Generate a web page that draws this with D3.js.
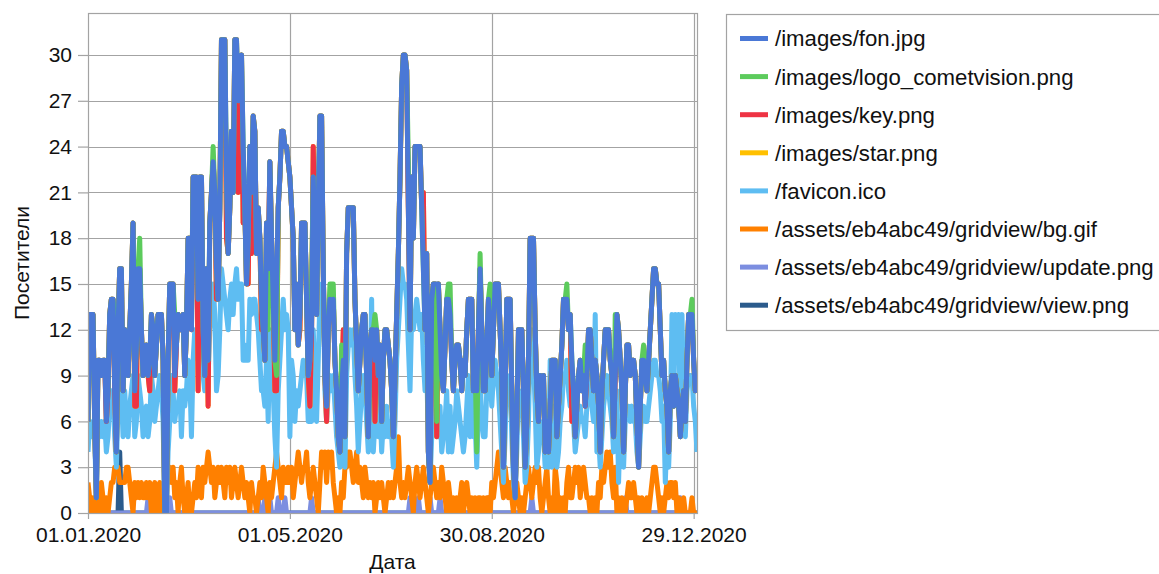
<!DOCTYPE html>
<html><head><meta charset="utf-8">
<script src="https://cdn.jsdelivr.net/npm/d3@7/dist/d3.min.js"></script>
<style>
body{margin:0;background:#fff;}
text{font-family:"Liberation Sans",Arial,sans-serif;fill:#111;}
</style>
</head><body>
<svg id="chart" width="1159" height="574"></svg>
<script>
// ---- data (daily values, 01.01.2020 .. 31.12.2020) ----
const seriesNames = ["/images/fon.jpg","/images/logo_cometvision.png","/images/key.png","/images/star.png","/favicon.ico","/assets/eb4abc49/gridview/bg.gif","/assets/eb4abc49/gridview/update.png","/assets/eb4abc49/gridview/view.png"];
const seriesColors = ["#4a78d6","#5ccb5c","#ee3344","#ffc000","#5ebdf2","#ff8000","#7c8ee0","#2b5b8c"];

const fon = [
6,13,13,13,6,1,10,10,9,10, 10,6,8,13,14,14,8,4,12,16,
16,8,12,10,9,12,15,19,8,11, 16,16,12,9,10,11,9,10,13,12,
9,11,13,13,13,10,0,0,10,15, 15,15,9,11,13,12,12,13,9,12,
18,18,12,22,22,22,14,22,22,12, 9,16,10,19,21,23,21,16,14,20,
31,31,31,22,17,20,25,21,31,31, 27,29,30,24,20,15,18,24,21,26,
25,17,20,18,14,12,10,19,16,23, 18,14,10,15,20,22,25,25,24,24,
23,22,20,18,12,15,11,13,19,19, 19,14,9,10,12,22,17,13,20,26,
26,16,9,7,12,14,13,14,10,8, 5,4,8,10,5,17,20,20,20,20,
14,11,8,10,12,13,13,9,5,11, 12,12,10,12,9,11,6,10,12,12,
11,10,8,5,9,13,17,22,28,30, 30,29,20,12,22,18,24,24,24,24,
20,16,12,17,4,2,14,15,15,15, 15,12,9,8,11,14,14,13,10,8,
10,11,11,10,8,10,9,12,14,14, 14,8,10,8,12,16,12,8,8,11,
14,12,9,12,15,15,15,12,9,3, 8,14,14,14,8,3,1,6,12,12,
12,8,3,6,10,18,18,18,12,8, 6,9,8,9,4,6,4,7,10,10,
10,5,7,9,11,14,14,14,12,13, 10,8,5,7,9,10,8,9,7,9,
12,12,10,8,10,9,7,4,8,10, 12,12,12,10,9,5,9,13,12,10,
8,4,8,11,11,9,10,10,9,6, 3,7,10,10,9,8,10,12,14,16,
16,15,15,12,9,10,8,7,4,8, 9,7,9,8,7,5,7,8,6,10,
13,13,13,10,8,9];

const logo = [
6,13,13,13,6,1,10,10,9,10, 10,8,8,13,14,14,13,4,12,16,
16,8,12,10,9,12,15,19,8,11, 16,18,12,9,10,11,9,10,13,12,
9,11,13,13,13,10,0,0,10,15, 15,15,13,11,13,12,12,13,9,12,
18,18,13,22,22,22,14,22,22,12, 9,16,10,19,21,24,21,16,14,20,
31,31,31,22,17,20,25,21,31,31, 27,29,30,24,20,15,18,24,21,26,
25,17,20,18,14,12,10,19,12,23, 18,14,10,9,20,22,25,25,24,24,
23,22,20,18,12,15,11,13,19,19, 19,14,9,10,15,22,17,13,20,26,
26,16,9,7,12,15,15,15,10,8, 5,4,11,10,5,17,20,20,20,20,
14,11,8,10,12,13,13,9,5,11, 12,12,13,12,9,11,6,10,12,12,
11,10,8,5,9,13,17,22,28,30, 30,29,23,12,22,18,24,24,24,24,
20,16,12,17,4,2,14,15,15,6, 15,12,9,8,11,14,15,15,10,8,
10,11,11,10,8,10,9,12,14,14, 14,8,10,4,12,17,12,8,8,11,
14,15,9,12,15,15,15,12,9,3, 8,14,14,14,8,3,1,6,12,12,
12,8,3,6,10,18,18,18,12,8, 6,9,8,9,4,6,4,7,10,10,
10,5,7,9,11,14,14,15,12,13, 10,8,5,7,9,10,8,9,11,9,
12,12,10,8,10,9,7,4,8,10, 12,12,12,10,9,5,13,13,12,10,
8,4,8,11,11,9,10,10,9,6, 3,7,10,11,9,8,10,12,14,16,
16,15,15,12,9,10,8,7,4,8, 9,7,9,8,7,5,7,8,6,10,
13,13,14,10,8,9];

const key = [
6,13,13,13,6,1,10,10,9,10, 10,6,8,13,14,14,8,4,12,16,
16,8,12,10,9,12,15,19,7,7, 16,16,12,9,10,11,9,8,13,12,
9,11,13,13,13,10,0,0,10,15, 15,15,8,11,13,12,12,13,9,12,
18,18,12,22,22,22,8,22,22,12, 9,16,7,19,21,23,21,14,14,20,
31,31,31,18,17,20,25,21,31,31, 21,29,30,19,20,15,15,24,17,26,
25,17,20,18,12,12,10,19,16,23, 18,14,8,8,20,22,25,25,24,24,
23,22,20,18,12,15,11,12,19,19, 19,14,9,7,12,24,17,13,20,26,
26,16,9,6,12,14,13,14,10,8, 5,4,8,12,5,17,20,20,20,20,
14,11,8,10,12,13,13,9,5,11, 12,12,6,12,9,11,6,10,12,12,
11,10,8,5,9,13,17,22,28,30, 30,29,20,12,22,18,24,24,24,24,
20,21,12,17,4,2,14,15,15,5, 15,12,9,8,11,14,14,13,10,8,
10,11,11,10,8,10,9,12,14,14, 14,8,10,8,12,16,12,8,8,11,
14,12,9,12,15,15,15,12,9,3, 8,14,14,14,8,3,1,6,12,12,
12,8,3,6,10,18,18,18,12,8, 6,9,8,9,4,6,4,7,10,10,
10,5,7,9,11,14,14,14,12,13, 6,8,5,7,9,10,8,9,7,9,
12,12,10,8,10,9,7,4,8,10, 12,12,12,10,9,5,9,13,12,10,
8,4,8,11,11,9,10,10,9,6, 3,7,10,10,9,8,10,12,14,16,
16,15,15,12,9,10,8,7,4,8, 9,7,9,8,7,5,7,8,6,10,
13,13,13,10,8,9];

const star = [
6,13,13,13,6,1,10,10,9,10, 10,6,8,13,14,14,8,4,12,16,
16,8,12,10,9,12,15,19,7,7, 16,16,12,9,10,11,9,8,13,12,
9,11,13,13,13,10,0,0,10,15, 15,15,8,11,13,12,12,13,9,12,
18,18,12,22,22,22,8,22,22,12, 9,16,7,19,21,23,21,14,14,20,
31,31,31,18,17,20,25,21,31,31, 21,29,30,19,20,15,15,24,17,26,
25,17,20,18,12,12,10,19,16,23, 18,14,8,8,20,22,25,25,24,24,
23,22,20,18,12,15,11,12,19,19, 19,14,9,7,12,24,17,13,20,26,
26,16,9,6,12,14,13,14,10,8, 5,4,8,12,5,17,20,20,20,20,
14,11,8,10,12,13,13,9,5,11, 12,12,6,12,9,11,6,10,12,12,
11,10,8,5,9,13,17,22,28,30, 30,29,20,12,22,18,24,24,24,24,
20,21,12,17,4,2,14,15,15,5, 15,12,9,8,11,14,14,13,10,8,
10,11,11,10,8,10,9,12,14,14, 14,8,10,8,12,16,12,8,8,11,
14,12,9,12,15,15,15,12,9,3, 8,14,14,14,8,3,1,6,12,12,
12,8,3,6,10,18,18,18,12,8, 6,9,8,9,4,6,4,7,10,10,
10,5,7,9,11,14,14,14,12,13, 6,8,5,7,9,10,8,9,7,9,
12,12,10,8,10,9,7,4,8,10, 12,12,12,10,9,5,9,13,12,10,
8,4,8,11,11,9,10,10,9,6, 3,7,10,10,9,8,10,12,14,16,
16,15,15,12,9,10,8,7,4,8, 9,7,9,8,7,5,7,8,6,10,
13,13,13,10,8,9];

const favicon = [
4,6,5,6,5,1,6,5,6,5, 6,4,5,7,8,8,5,3,7,9,
8,5,8,6,5,7,8,9,5,6, 9,8,7,5,6,7,5,6,9,8,
6,7,8,9,8,6,0,0,4,6, 9,8,6,7,7,8,5,8,7,8,
10,9,5,10,12,11,10,12,10,9, 8,11,9,12,13,15,13,8,9,12,
16,15,14,13,12,14,15,13,15,16, 14,15,15,10,11,10,10,14,13,14,
14,13,12,10,8,8,7,10,6,12, 10,8,5,3,8,10,12,14,12,13,
12,5,10,9,6,8,7,8,9,10, 9,9,6,6,6,12,9,6,10,14,
15,15,8,6,8,9,8,9,7,5, 4,3,5,6,3,9,11,12,11,12,
9,7,4,6,8,9,8,6,4,8, 14,4,6,9,5,7,4,6,5,7,
5,6,5,3,6,10,12,14,16,15, 15,14,11,8,13,12,13,14,13,12,
13,10,8,10,4,2,5,6,9,5, 5,7,4,5,6,8,4,7,4,5,
6,8,7,6,5,4,5,7,9,5, 8,5,6,3,7,9,6,5,5,8,
10,9,7,9,10,9,8,6,4,2, 5,9,8,9,5,2,1,4,8,7,
8,5,2,3,6,11,12,10,7,3, 4,6,5,5,3,4,3,10,3,7,
7,3,4,6,7,9,9,10,8,7, 7,6,4,5,6,7,6,6,5,7,
8,9,7,6,13,4,5,3,5,7, 8,9,8,7,6,4,6,8,2,6,
6,3,6,7,7,6,7,6,6,4, 3,5,7,7,6,6,7,8,9,10,
10,9,9,8,6,7,2,5,3,6, 13,7,13,12,13,6,13,7,5,8,
9,9,9,7,6,4];

const bg = [
2,1,0,1,0,0,1,0,2,1, 0,1,0,1,2,2,3,3,3,2,
2,2,2,3,3,2,1,0,2,1, 2,1,2,1,1,2,1,2,0,1,
2,0,1,2,0,0,1,3,2,3, 2,3,1,2,0,2,3,1,0,1,
2,0,0,1,2,1,3,2,1,3, 2,3,4,3,2,3,1,2,3,2,
3,2,1,3,2,3,1,2,3,2, 1,2,3,2,1,2,1,0,2,1,
1,0,1,2,1,3,2,1,0,2, 1,2,3,4,3,2,1,3,2,2,
3,2,3,1,2,3,4,3,2,3, 3,4,2,1,2,3,2,1,0,2,
4,3,4,2,4,3,4,2,1,0, 1,0,2,1,3,3,4,4,3,2,
3,4,2,3,2,1,3,2,1,2, 1,2,0,1,2,1,2,1,0,1,
2,1,2,1,2,3,5,2,1,2, 1,2,3,2,1,0,2,3,2,1,
2,3,2,1,0,1,2,3,2,1, 2,1,3,2,1,0,2,1,0,1,
0,1,0,1,2,0,1,2,1,0, 1,0,1,0,1,1,0,1,0,1,
1,0,2,1,2,3,4,3,2,1, 3,2,1,2,1,0,1,2,1,0,
1,0,1,2,3,2,1,2,3,2, 3,1,0,1,2,3,1,0,1,0,
3,2,0,1,0,1,0,2,3,1, 1,2,3,2,3,1,2,3,2,1,
1,0,1,0,1,0,2,1,3,2, 3,4,3,4,2,1,3,0,1,0,
1,0,0,1,2,1,1,2,1,0, 1,0,1,0,0,1,0,1,2,3,
3,2,1,0,1,0,1,2,1,2, 2,1,2,0,1,0,0,1,0,0,
0,0,1,0,0,0];

const update = [
0,0,0,0,0,0,0,0,0,0, 0,0,0,0,0,0,0,0,0,0,
0,0,0,0,0,0,0,0,0,0, 0,0,0,0,0,0,1,0,0,1,
0,0,0,1,0,0,1,1,0,1, 0,0,0,0,0,0,0,0,0,0,
0,0,0,0,0,0,0,0,0,0, 0,0,0,0,0,0,0,0,0,0,
0,0,0,0,0,0,0,0,0,0, 0,0,0,0,0,0,0,0,0,0,
0,0,1,0,0,0,1,0,0,1, 0,0,0,0,1,0,0,0,1,0,
0,0,0,0,0,0,0,0,0,0, 0,0,0,0,1,0,0,0,0,0,
0,0,0,0,0,0,0,0,0,0, 0,0,0,0,0,0,0,0,0,0,
0,0,0,0,0,0,0,0,0,0, 0,0,0,0,0,0,0,0,0,0,
0,0,0,0,0,0,0,0,0,0, 0,0,0,1,0,1,0,0,1,0,
0,0,0,0,0,1,0,0,0,0, 0,1,0,0,0,0,0,0,0,0,
0,0,0,0,0,0,0,0,0,0, 0,0,0,0,0,0,0,0,0,0,
1,0,0,0,0,0,0,0,0,0, 0,0,0,0,0,0,0,0,0,0,
0,0,0,0,0,0,1,0,0,0, 0,0,0,0,0,0,0,0,0,0,
0,0,0,0,0,0,0,0,0,0, 0,0,0,0,0,0,0,0,0,0,
0,0,0,0,0,0,0,0,0,0, 0,0,0,0,0,0,0,0,0,0,
0,0,1,0,0,0,0,0,0,0, 0,0,0,0,0,0,0,0,0,0,
0,0,0,0,0,0,0,0,0,0, 0,0,0,0,0,1,0,0,0,0,
0,0,0,0,0,0];

const view = [
0,0,0,0,0,0,0,0,0,0, 0,0,0,0,0,0,0,0,0,4,
0,0,0,0,0,0,0,0,0,0, 0,0,0,0,0,0,0,0,0,0,
0,0,0,0,0,0,0,0,0,0, 0,0,0,0,0,0,0,0,0,0,
0,0,0,0,0,0,0,0,0,0, 0,0,0,0,0,0,0,0,0,0,
0,0,0,0,0,0,0,0,0,0, 0,0,0,0,0,0,0,0,0,0,
0,0,0,0,0,0,0,0,0,0, 0,0,0,0,0,0,0,0,0,0,
0,0,0,0,0,0,0,0,0,0, 0,0,0,0,0,0,0,0,0,0,
0,0,0,0,0,0,0,0,0,0, 0,0,0,0,0,0,0,0,0,0,
0,0,0,0,0,0,0,0,0,0, 0,0,0,0,0,0,0,0,0,0,
0,0,0,0,0,0,0,0,0,0, 0,0,0,0,0,0,0,0,0,0,
0,0,0,0,0,0,0,0,0,0, 0,0,0,0,0,0,0,0,0,0,
0,0,0,0,0,0,0,0,0,0, 0,0,0,0,0,0,0,0,0,0,
0,0,0,0,0,0,0,0,0,0, 0,0,0,0,0,0,0,0,0,0,
0,0,0,0,0,0,0,0,0,0, 0,0,0,0,0,0,0,0,0,0,
0,0,0,0,0,0,0,0,0,0, 0,0,0,0,0,0,0,0,0,0,
0,0,0,0,0,0,0,0,0,0, 0,0,0,0,0,0,0,0,0,0,
0,0,0,0,0,0,0,0,0,0, 0,0,0,0,0,0,0,0,0,0,
0,0,0,0,0,0,0,0,0,0, 0,0,0,0,0,0,0,0,0,0,
0,0,0,0,0,0];

const yTicks = [0,3,6,9,12,15,18,21,24,27,30];
const xTickLabels = ["01.01.2020","01.05.2020","30.08.2020","29.12.2020"];
const firstDay = "01.01.2020", lastDay = "31.12.2020";
const yTitle = "Посетители", xTitle = "Дата";

// ---- chart ----
const allSeries = [fon, logo, key, star, favicon, bg, update, view];
const parse = d3.utcParse("%d.%m.%Y");
const start = parse(firstDay), end = parse(lastDay);
const days = d3.utcDay.range(start, d3.utcDay.offset(end, 1));

const P = {left: 88, top: 13, right: 697, bottom: 513};
const x = d3.scaleUtc().domain([start, end]).range([P.left, P.right]);
const y = d3.scaleLinear().domain([0, 32.75]).range([P.bottom, P.top]);

const svg = d3.select("#chart");
svg.append("rect").attr("width", 1159).attr("height", 574).attr("fill", "#fff");

const gridCol = "#a3a3a3";
const xTickDates = xTickLabels.map(parse);

// grid
const grid = svg.append("g");
grid.selectAll("line.h").data(yTicks.filter(v => v > 0)).join("line")
  .attr("x1", P.left).attr("x2", P.right)
  .attr("y1", d => Math.round(y(d)) + 0.5).attr("y2", d => Math.round(y(d)) + 0.5)
  .attr("stroke", gridCol).attr("stroke-width", 1.2);
grid.selectAll("line.v").data(xTickDates.slice(1)).join("line")
  .attr("y1", P.top).attr("y2", P.bottom)
  .attr("x1", d => Math.round(x(d)) + 0.5).attr("x2", d => Math.round(x(d)) + 0.5)
  .attr("stroke", gridCol).attr("stroke-width", 1.2);

// axes (ticks + labels)
const yAxis = d3.axisLeft(y).tickValues(yTicks).tickSize(10).tickPadding(6).tickFormat(d3.format("d"));
const gy = svg.append("g").attr("transform", `translate(${P.left},0)`).call(yAxis);
gy.select(".domain").remove();
gy.selectAll(".tick line").attr("stroke", gridCol).attr("stroke-width", 1.2);
gy.selectAll(".tick text").attr("font-size", 21).attr("font-family", '"Liberation Sans",Arial,sans-serif').attr("fill", "#111");

const xAxis = d3.axisBottom(x).tickValues(xTickDates).tickSize(6).tickPadding(8).tickFormat(d3.utcFormat("%d.%m.%Y"));
const gx = svg.append("g").attr("transform", `translate(0,${P.bottom})`).call(xAxis);
gx.select(".domain").remove();
gx.selectAll(".tick line").attr("stroke", gridCol).attr("stroke-width", 1.2);
gx.selectAll(".tick text").attr("font-size", 21).attr("font-family", '"Liberation Sans",Arial,sans-serif').attr("fill", "#111");

// lines
svg.append("clipPath").attr("id", "clip").append("rect")
  .attr("x", P.left).attr("y", P.top).attr("width", P.right - P.left).attr("height", P.bottom - P.top + 1);
const line = d3.line().x((d, i) => x(days[i])).y(d => y(d));
const gl = svg.append("g").attr("clip-path", "url(#clip)");
for (let s = allSeries.length - 1; s >= 0; s--) {
  gl.append("path").datum(allSeries[s])
    .attr("d", line).attr("fill", "none")
    .attr("stroke", seriesColors[s]).attr("stroke-width", 5)
    .attr("stroke-linejoin", "round");
}

// frame
svg.append("rect").attr("x", P.left + 0.5).attr("y", P.top + 0.5)
  .attr("width", P.right - P.left).attr("height", P.bottom - P.top)
  .attr("fill", "none").attr("stroke", gridCol).attr("stroke-width", 1.2);

// titles
svg.append("text").attr("x", (P.left + P.right) / 2).attr("y", 569)
  .attr("text-anchor", "middle").attr("font-size", 21).text(xTitle);
svg.append("text").attr("transform", `translate(29,${(P.top + P.bottom) / 2}) rotate(-90)`)
  .attr("text-anchor", "middle").attr("font-size", 21).text(yTitle);

// legend
const lg = svg.append("g");
lg.append("rect").attr("x", 726.5).attr("y", 14.5).attr("width", 440).attr("height", 316)
  .attr("fill", "#fff").attr("stroke", gridCol).attr("stroke-width", 1.2);
seriesNames.forEach((name, i) => {
  const yy = 38.5 + i * 38.1;
  lg.append("line").attr("x1", 740).attr("x2", 768).attr("y1", yy).attr("y2", yy)
    .attr("stroke", seriesColors[i]).attr("stroke-width", 5);
  lg.append("text").attr("x", 775).attr("y", yy).attr("dy", "0.36em")
    .attr("font-size", 22.2).text(name);
});
</script>
</body></html>
